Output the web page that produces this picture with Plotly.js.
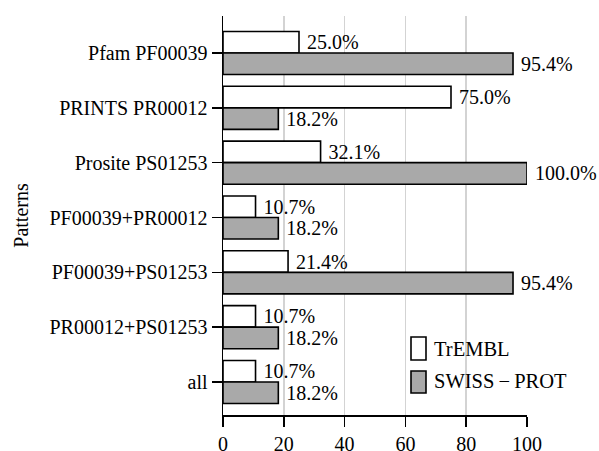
<!DOCTYPE html>
<html>
<head>
<meta charset="utf-8">
<script src="https://cdn.plot.ly/plotly-3.0.1.min.js"></script>
<style>html,body{margin:0;padding:0;background:#fff;}#chart{width:599px;height:451px;}</style>
</head>
<body>
<div id="chart"></div>
<script>
const categories = ["Pfam PF00039", "PRINTS PR00012", "Prosite PS01253", "PF00039+PR00012", "PF00039+PS01253", "PR00012+PS01253", "all"];
const trembl = [25.0, 75.0, 32.1, 10.7, 21.4, 10.7, 10.7];
const swissprot = [95.4, 18.2, 100.0, 18.2, 95.4, 18.2, 18.2];
const xTicks = [0, 20, 40, 60, 80, 100];
const seriesNames = ["TrEMBL", "SWISS\u2009\u2212\u2009PROT"];

const font = {family: "Liberation Serif", size: 20, color: "#000"};
const legendFont = {family: "Liberation Serif", size: 20.5, color: "#000"};

function fmt(v) { return "\u00A0" + v.toFixed(1) + "%"; }

const traces = [
  {
    type: "bar", orientation: "h", name: seriesNames[0],
    y: categories, x: trembl,
    text: trembl.map(fmt), textposition: "outside", cliponaxis: false, constraintext: "none",
    textfont: font,
    marker: {color: "#ffffff", line: {color: "#000", width: 1.6}},
    hoverinfo: "none"
  },
  {
    type: "bar", orientation: "h", name: seriesNames[1],
    y: categories, x: swissprot,
    text: swissprot.map(fmt), textposition: "outside", cliponaxis: false, constraintext: "none",
    textfont: font,
    marker: {color: "#a9a9a9", line: {color: "#000", width: 1.6}},
    hoverinfo: "none"
  }
];

function px2x(p) { return (p - 223) / 304; }
function py2y(p) { return (415 - p) / 399; }

const legendShapes = [
  {type: "rect", xref: "paper", yref: "paper", x0: px2x(411), x1: px2x(426), y0: py2y(360), y1: py2y(337), fillcolor: "#ffffff", line: {color: "#000", width: 1.6}},
  {type: "rect", xref: "paper", yref: "paper", x0: px2x(411), x1: px2x(426), y0: py2y(393), y1: py2y(371), fillcolor: "#a9a9a9", line: {color: "#000", width: 1.6}}
];
const legendAnn = [
  {xref: "paper", yref: "paper", x: px2x(432), y: py2y(349), text: seriesNames[0], showarrow: false, xanchor: "left", yanchor: "middle", font: legendFont},
  {xref: "paper", yref: "paper", x: px2x(432), y: py2y(381), text: seriesNames[1], showarrow: false, xanchor: "left", yanchor: "middle", font: legendFont}
];

const layout = {
  width: 599, height: 451,
  margin: {l: 223, r: 72, t: 16, b: 36},
  paper_bgcolor: "#fff", plot_bgcolor: "#fff",
  font: font,
  showlegend: false,
  barmode: "group",
  bargap: 0.215,
  bargroupgap: 0,
  xaxis: {
    range: [0, 100], tickvals: xTicks, ticktext: xTicks.map(String),
    showgrid: true, gridcolor: "#d3d3d3", gridwidth: 1.5,
    zeroline: false, showline: true, linecolor: "#000", linewidth: 1.5,
    ticks: "outside", ticklen: 10, tickwidth: 1.5, tickcolor: "#000",
    tickfont: font, automargin: false, fixedrange: true
  },
  yaxis: {
    type: "category", categoryorder: "array", categoryarray: categories,
    range: [6.602, -0.675],
    showgrid: false, zeroline: false, showline: true, linecolor: "#000", linewidth: 1.5,
    ticks: "outside", ticklen: 10, tickwidth: 1.5, tickcolor: "#000",
    tickfont: font, automargin: false, fixedrange: true,
    title: {text: "Patterns", font: font, standoff: 15}
  },
  shapes: legendShapes,
  annotations: legendAnn
};

Plotly.newPlot("chart", traces, layout, {displayModeBar: false, staticPlot: true});
</script>
</body>
</html>
